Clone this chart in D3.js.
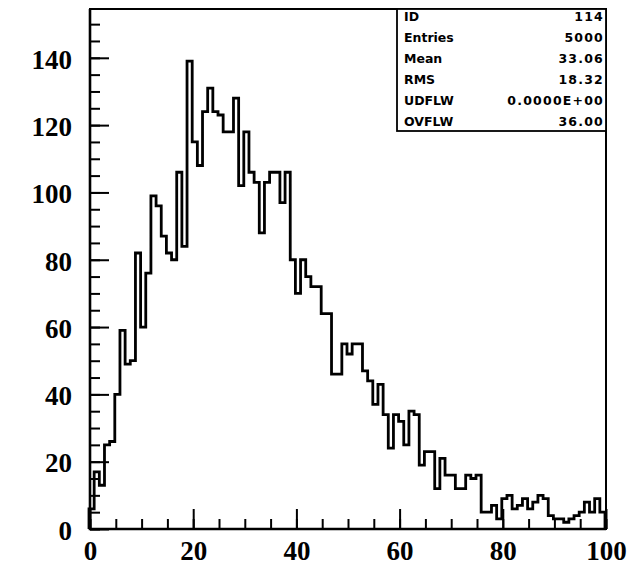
<!DOCTYPE html>
<html>
<head>
<meta charset="utf-8">
<script src="https://cdn.jsdelivr.net/npm/d3@7"></script>
<style>
  html, body { margin: 0; padding: 0; background: #fff; }
  svg { display: block; }
  .tick-label text { font-family: "Liberation Serif", "Times New Roman", serif; font-weight: bold; font-size: 27px; fill: #000; }
  .stats text { font-family: "DejaVu Sans", sans-serif; font-weight: bold; font-size: 12.5px; fill: #000; }
  .stats text.val { letter-spacing: 1.2px; }
</style>
</head>
<body>
<svg id="chart" width="637" height="568"></svg>
<script>
// Histogram 114: 100 equal bins on [0, 100)
const xRange = [0, 100];
const counts = [
   6, 17, 13, 25, 26, 40, 59, 49, 50, 82,
  60, 76, 99, 96, 87, 82, 80,106, 84,139,
 115,108,124,131,124,123,118,118,128,102,
 118,106,103, 88,103,106,106, 97,106, 80,
  70, 80, 75, 72, 72, 64, 64, 46, 46, 55,
  52, 55, 55, 47, 44, 37, 43, 34, 24, 34,
  32, 25, 35, 34, 19, 23, 23, 12, 21, 16,
  16, 12, 12, 16, 15, 16,  5,  5,  7,  3,
   9, 10,  6,  7,  9,  6,  8, 10,  9,  4,
   3,  3,  2,  3,  4,  5,  8,  5,  9,  5
];
const yMax = 154.5;
const xTickLabels = [0, 20, 40, 60, 80, 100];
const yTickLabels = [0, 20, 40, 60, 80, 100, 120, 140];
const statNames  = ["ID", "Entries", "Mean", "RMS", "UDFLW", "OVFLW"];
const statValues = ["114", "5000", "33.06", "18.32", "0.0000E+00", "36.00"];

const frame = { left: 90, right: 606, top: 9, bottom: 529 };
const svg = d3.select("#chart");
svg.append("rect").attr("width", 637).attr("height", 568).attr("fill", "#fff");

const x = d3.scaleLinear().domain(xRange).range([frame.left, frame.right]);
const y = d3.scaleLinear().domain([0, yMax]).range([frame.bottom, frame.top]);
const nBins = counts.length;
const binW = (xRange[1] - xRange[0]) / nBins;

// Inward ticks: minor every 5, major every 20
function tickAxis(axis, values, size, tx, ty) {
  const g = svg.append("g")
    .attr("transform", `translate(${tx},${ty})`)
    .call(axis.tickValues(values).tickSize(size).tickFormat(""));
  g.select(".domain").remove();
  g.selectAll(".tick line").attr("stroke", "#000").attr("stroke-width", 2);
  return g;
}
const yMinor = d3.range(0, yMax, 5);
const xMinor = d3.range(0, 101, 5);
tickAxis(d3.axisRight(y), yMinor, 10, frame.left, 0);
tickAxis(d3.axisRight(y), yTickLabels, 19, frame.left, 0);
tickAxis(d3.axisTop(x), xMinor, 10, 0, frame.bottom);
tickAxis(d3.axisTop(x), xTickLabels, 20, 0, frame.bottom);

// Tick labels
const yl = svg.append("g").attr("class", "tick-label")
  .attr("transform", `translate(${frame.left},0)`)
  .call(d3.axisLeft(y).tickValues(yTickLabels).tickSize(0).tickPadding(18));
yl.select(".domain").remove();
yl.selectAll("text").attr("dy", "0.38em");

const xl = svg.append("g").attr("class", "tick-label")
  .attr("transform", `translate(0,${frame.bottom})`)
  .call(d3.axisBottom(x).tickValues(xTickLabels).tickSize(0).tickPadding(12));
xl.select(".domain").remove();

// Histogram outline as a step curve
const pts = [[xRange[0], 0]];
counts.forEach((c, i) => pts.push([xRange[0] + i * binW, c]));
pts.push([xRange[1], counts[nBins - 1]]);
pts.push([xRange[1], 0]);
const line = d3.line().x(d => x(d[0])).y(d => y(d[1])).curve(d3.curveStepAfter);
svg.append("path")
  .attr("d", line(pts))
  .attr("transform", "translate(-1,0)")
  .attr("fill", "none")
  .attr("stroke", "#000")
  .attr("stroke-width", 2.8)
  .attr("stroke-linejoin", "miter");

// Frame: heavier axes on the left and bottom
svg.append("rect")
  .attr("x", frame.left).attr("y", frame.top)
  .attr("width", frame.right - frame.left).attr("height", frame.bottom - frame.top)
  .attr("fill", "none").attr("stroke", "#000").attr("stroke-width", 2);
svg.append("path")
  .attr("d", `M${frame.left},${frame.top}V${frame.bottom}H${frame.right}`)
  .attr("fill", "none").attr("stroke", "#000").attr("stroke-width", 2.6);

// Statistics box
const box = { left: 397, top: frame.top, bottom: 131, right: frame.right };
const stats = svg.append("g").attr("class", "stats");
stats.append("rect")
  .attr("x", box.left).attr("y", box.top)
  .attr("width", box.right - box.left).attr("height", box.bottom - box.top)
  .attr("fill", "#fff").attr("stroke", "#000").attr("stroke-width", 1.8);
const rowY = d3.scalePoint().domain(statNames).range([16, 121]);
stats.selectAll("text.name").data(statNames).join("text")
  .attr("class", "name").attr("x", box.left + 7).attr("y", d => rowY(d))
  .attr("dy", "0.36em").text(d => d);
stats.selectAll("text.val").data(statNames).join("text")
  .attr("class", "val").attr("x", box.right - 2).attr("y", d => rowY(d))
  .attr("dy", "0.36em").attr("text-anchor", "end").text((d, i) => statValues[i]);
</script>
</body>
</html>
